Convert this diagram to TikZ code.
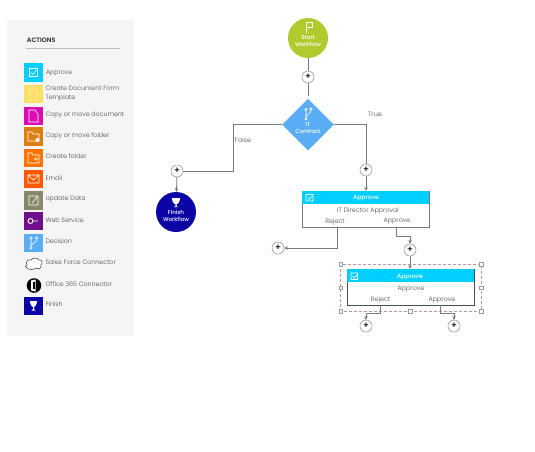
\documentclass[tikz,border=0pt]{standalone}
\usepackage{fontspec}
\setmainfont{Poppins Light}
\newfontfamily\boldf{Poppins SemiBold}
\newfontfamily\regf{Poppins Medium}
\usetikzlibrary{arrows.meta,shapes.geometric,calc}
\definecolor{cyanh}{HTML}{00CFFF}
\definecolor{grnc}{HTML}{AFCB2E}
\definecolor{bluec}{HTML}{5AADF5}
\definecolor{navyc}{HTML}{0A04A4}
\definecolor{txt}{HTML}{4A4A4A}
\definecolor{linec}{HTML}{7A7A7A}
\definecolor{magc}{HTML}{DC0CB4}
\definecolor{dashc}{HTML}{B59A9A}
\definecolor{fold}{HTML}{DB7F10}
\definecolor{updc}{HTML}{87876A}
\definecolor{webc}{HTML}{6E0F8C}
\tikzset{
  x=1pt,y=-1pt,
  every node/.style={inner sep=0pt,outer sep=0pt,text=txt},
  tool/.style={minimum width=18.5pt,minimum height=18.5pt,draw=none},
  tooltxt/.style={anchor=west,font=\fontsize{6.3}{9}\selectfont,align=left},
  flowtxt/.style={font=\fontsize{6.4}{8}\selectfont},
  headtxt/.style={font=\fontsize{6}{8}\selectfont\regf,text=white},
  roundtxt/.style={font=\fontsize{5.6}{7}\selectfont\regf,text=white,align=center},
  plusn/.style={circle,draw=black!40,fill=white,line width=.6pt,minimum size=12pt,text=black,font=\fontsize{9}{9}\selectfont\regf},
  conn/.style={draw=linec,line width=.8pt},
  arr/.style={conn,-{Stealth[length=4pt,width=3.5pt]}},
  glyph/.style={draw=white,line width=.6pt,fill=none},
  actbox/.style={draw=linec,line width=.7pt,fill=white,minimum width=127pt,minimum height=36pt},
  handle/.style={draw=black!40,fill=white,line width=.4pt,minimum size=3.5pt},
}
\begin{document}
\begin{tikzpicture}
\useasboundingbox (0,0) rectangle (535,451);
\fill[white] (0,0) rectangle (535,451);
% palette
\node[fill=black!4,minimum width=127pt,minimum height=316pt] (panel) at (70.5,178) {};
\node[anchor=west,font=\fontsize{6.4}{8}\selectfont\boldf,text=black!85] (acttitle) at (27,40.5) {ACTIONS};
\fill[black!25] (26,47.5) rectangle (120,48.7);
\node[tool,fill=cyanh] (t1) at (33.5,72.5) {};
\node[tool,fill=yellow!65!orange!60] (t2) at (33.5,94) {};
\node[tool,fill=magc] (t3) at (33.5,116) {};
\node[tool,fill=fold] (t4) at (33.5,136.5) {};
\node[tool,fill=orange!90!red] (t5) at (33.5,158) {};
\node[tool,fill=orange!70!red] (t6) at (33.5,179) {};
\node[tool,fill=updc] (t7) at (33.5,200.5) {};
\node[tool,fill=webc] (t8) at (33.5,221) {};
\node[tool,fill=bluec] (t9) at (33.5,243) {};
\node[tool,fill=navyc] (t12) at (33.5,306) {};
% palette glyphs
\draw[glyph] (29.5,68.5) rectangle (37.5,76.5) (31,72.5) -- (33,74.5) -- (36.5,70);
\draw[glyph,draw=white!70!yellow] (30,88) -- (35,88) -- (37,90) -- (37,100) -- (30,100) -- cycle;
\draw[glyph] (29,110) -- (35,110) -- (38,114) -- (38,122) -- (29,122) -- cycle;
\draw[glyph] (28,132) -- (32,132) -- (33,134) -- (39,134) -- (39,141) -- (28,141) -- cycle;
\fill[white] (37.5,140) circle (2);
\draw[glyph] (28,153) -- (32,153) -- (33,155) -- (39,155) -- (39,163) -- (28,163) -- cycle (36,157) -- (36,161) (34,159) -- (38,159);
\draw[glyph] (28,175) rectangle (39,183) (28,175) -- (33.5,180) -- (39,175);
\draw[glyph] (29,196) rectangle (38,205) (32,203) -- (37,197);
\draw[glyph,line width=.9pt] (30.5,221) circle (2.5) (33,221) -- (38,221);
\draw[glyph] (31,238) circle (1.2) (36.5,238) circle (1.2) (31,248) circle (1.2) (31,239) -- (31,247) (36.5,239) .. controls (36.5,243) and (32,243) .. (31,246);
\draw[black!80,line width=.5pt,fill=white] (27,265) .. controls (25,262) and (28,259) .. (31,260) .. controls (33,257) and (38,258) .. (39,260) .. controls (42,259) and (43,263) .. (41,265) .. controls (42,268) and (38,270) .. (36,268) .. controls (33,270) and (29,270) .. (27,268) .. controls (25,268) and (25,265) .. (27,265) -- cycle;
\fill[black] (34,285.5) circle (7.3);
\fill[white] (31,280.5) -- (35.5,279.5) -- (35.5,291.5) -- (31,290.5) -- cycle;
\fill[black] (32.5,282) rectangle (34.5,289);
\fill[white] (30,301) -- (37,301) .. controls (37,305) and (35,306.5) .. (34,307) -- (34,309) -- (35.5,310.5) -- (31.5,310.5) -- (33,309) -- (33,307) .. controls (32,306.5) and (30,305) .. (30,301) -- cycle;
% palette labels
\node[tooltxt] at (46,73) {Approve};
\node[tooltxt] at (45.5,94) {Create Document Form\\Template};
\node[tooltxt] at (45.5,114.5) {Copy or move document};
\node[tooltxt] at (45.5,135.5) {Copy or move folder};
\node[tooltxt] at (45.5,156.5) {Create folder};
\node[tooltxt] at (45.5,178.5) {Email};
\node[tooltxt] at (45.5,199) {Update Data};
\node[tooltxt] at (45.5,220.5) {Web Service};
\node[tooltxt] at (45.5,241.5) {Decision};
\node[tooltxt] at (45.5,262.5) {Sales Force Connector};
\node[tooltxt] at (45.5,284) {Office 365 Connector};
\node[tooltxt] at (45.5,304.5) {Finish};
% flow nodes
\node[circle,fill=grnc,minimum size=40pt] (start) at (308,38) {};
\node[roundtxt] (startl) at (308,41.5) {Start\\Workflow};
\draw[glyph,line width=.5pt] (306,33) -- (306,22.5) -- (312,22.5) -- (312,27) -- (306,27);
\node[plusn] (p1) at (308,77) {+};
\node[diamond,aspect=1,fill=bluec,minimum width=51.5pt,minimum height=51.5pt] (dec) at (308,124.5) {};
\node[roundtxt] (decl) at (308,128.5) {IT\\Contract};
\draw[glyph] (306,118) -- (306,111) (306,118) .. controls (306,114) and (311,114) .. (311,110);
\draw[glyph] (306,109.5) circle (1.2) (311,109) circle (1.2) (306,119) circle (1);
\node[plusn] (p2) at (177,171) {+};
\node[plusn] (p3) at (366,170) {+};
\node[circle,fill=navyc,minimum size=40pt] (finish) at (176,212) {};
\node[roundtxt] (finl) at (176,216) {Finish\\Workflow};
\fill[white] (172,198) -- (180,198) .. controls (180,202) and (178,204) .. (176.5,204.5) -- (176.5,206) -- (178,207) -- (174,207) -- (175.5,206) -- (175.5,204.5) .. controls (174,204) and (172,202) .. (172,198) -- cycle;
\node[flowtxt] (lf) at (243,140) {False};
\node[flowtxt] (lt) at (375,114) {True};
% selection rectangle
\draw[dashc,line width=.6pt,dash pattern=on 3pt off 2pt] (340.5,264) rectangle (481,311);
\node[handle] (h1) at (340.5,264) {};
\node[handle] (h2) at (481,264) {};
\node[handle] (h3) at (340.5,311) {};
\node[handle] (h4) at (481,311) {};
\node[handle] (h5) at (410,311) {};
\node[handle] (h6) at (340.5,287.5) {};
\node[handle] (h7) at (481,287.5) {};
% action boxes
\node[actbox] (b1) at (365.5,209) {};
\fill[cyanh] (b1.north west) rectangle (429,204);
\draw[glyph] (306,194.5) rectangle (313,201) (307.5,197.5) -- (309.5,199.5) -- (312,196);
\node[headtxt] (b1h) at (366,198.5) {Approve};
\node[flowtxt] (b1t) at (368,211) {IT Director Approval};
\node[flowtxt] (b1r) at (335,221.5) {Reject};
\node[flowtxt] (b1a) at (397,221.5) {Approve};
\coordinate (b1rs) at (337,227);
\coordinate (b1as) at (396,227);
\node[plusn] (p4) at (278,248) {+};
\node[plusn] (p5) at (410,250) {+};
\node[actbox,draw=black!70] (b2) at (410.5,287) {};
\fill[cyanh] (b2.north west) rectangle (474,282);
\draw[glyph] (351,273) rectangle (357.5,279.5) (352.5,276) -- (354.5,278) -- (357,274.5);
\node[headtxt] (b2h) at (410,277) {Approve};
\node[flowtxt] (b2t) at (411,289) {Approve};
\node[flowtxt] (b2r) at (380.5,300) {Reject};
\node[flowtxt] (b2a) at (442,300) {Approve};
\coordinate (b2rs) at (380,305);
\coordinate (b2as) at (440,305);
\node[plusn] (p6) at (366,326) {+};
\node[plusn] (p7) at (454,326) {+};
% connectors
\draw[conn] (start) -- (p1);
\draw[conn] (p1) -- ($(dec.north)+(0,-3)$);
\draw[conn] (dec.west) -- (233,124.5) -- (233,171) -- (p2);
\draw[conn] (dec.east) -- (366,124.5) -- (p3);
\draw[arr] (p2) -- (finish);
\draw[arr] (p3) -- (b1.north -| p3);
\draw[arr] (b1rs) -- (337,248) -- (p4);
\draw[arr] (b1as) -- (396,236) -- (410,236) -- (p5);
\draw[arr] (p5) -- (b2.north -| p5);
\draw[arr] (b2rs) -- (380,313) -- (366,313) -- (p6);
\draw[arr] (b2as) -- (440,313) -- (454,313) -- (p7);
\end{tikzpicture}
\end{document}
